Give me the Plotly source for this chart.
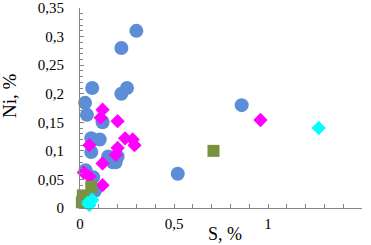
import plotly.graph_objects as go

blue_x = [0.30, 0.22, 0.065, 0.25, 0.22, 0.027, 0.037, 0.12, 0.86, 0.52, 0.06, 0.105, 0.15, 0.19, 0.20, 0.175, 0.06, 0.07, 0.03, 0.08]
blue_y = [0.31, 0.28, 0.21, 0.21, 0.20, 0.184, 0.163, 0.15, 0.18, 0.06, 0.122, 0.12, 0.09, 0.08, 0.09, 0.08, 0.098, 0.054, 0.066, 0.03]

mag_x = [0.12, 0.11, 0.20, 0.05, 0.24, 0.28, 0.29, 0.20, 0.12, 0.19, 0.02, 0.05, 0.12, 0.96]
mag_y = [0.172, 0.158, 0.152, 0.11, 0.122, 0.12, 0.11, 0.105, 0.078, 0.093, 0.062, 0.055, 0.04, 0.154]

green_x = [0.06, 0.015, 0.02, 0.01, 0.71]
green_y = [0.037, 0.022, 0.014, 0.01, 0.10]

cyan_x = [0.065, 0.04, 0.05, 1.27]
cyan_y = [0.014, 0.009, 0.005, 0.14]

SERIF = "Liberation Serif"

fig = go.Figure()
fig.add_trace(go.Scatter(x=blue_x, y=blue_y, mode="markers", cliponaxis=False,
                         marker=dict(symbol="circle", size=14, color="#5B8ED6", line=dict(width=0))))
fig.add_trace(go.Scatter(x=mag_x, y=mag_y, mode="markers", cliponaxis=False,
                         marker=dict(symbol="diamond", size=11, color="#FF00FF", line=dict(width=0))))
fig.add_trace(go.Scatter(x=green_x, y=green_y, mode="markers", cliponaxis=False,
                         marker=dict(symbol="square", size=12, color="#77933C", line=dict(width=0))))
fig.add_trace(go.Scatter(x=cyan_x, y=cyan_y, mode="markers", cliponaxis=False,
                         marker=dict(symbol="diamond", size=11, color="#00FFFF", line=dict(width=0))))

axis_font = dict(family=SERIF, size=15, color="black")
fig.update_layout(
    width=371, height=245,
    margin=dict(l=80, r=9, t=8, b=37),
    paper_bgcolor="white", plot_bgcolor="white",
    showlegend=False,
    separators=",.",
    font=dict(family=SERIF, color="black"),
    xaxis=dict(range=[0, 1.5], dtick=0.5, tick0=0, showgrid=False, zeroline=False,
               showline=True, linecolor="#868686", linewidth=1, automargin=False,
               ticks="inside", ticklen=4, tickcolor="#868686",
               minor=dict(dtick=0.1, ticks="inside", ticklen=4, tickcolor="#868686", showgrid=False),
               tickfont=axis_font, ticklabelstandoff=2),
    yaxis=dict(range=[0, 0.35], dtick=0.05, tick0=0, showgrid=False, zeroline=False,
               showline=True, linecolor="#868686", linewidth=1, automargin=False,
               ticks="inside", ticklen=4, tickcolor="#868686",
               minor=dict(dtick=0.01, ticks="inside", ticklen=3, tickcolor="#868686", showgrid=False),
               tickfont=axis_font, ticklabelstandoff=12),
    annotations=[
        dict(text="S, %", xref="paper", yref="paper", x=0.514, y=-0.13,
             xanchor="center", yanchor="middle", showarrow=False,
             font=dict(family=SERIF, size=18, color="black")),
        dict(text="Ni, %", xref="paper", yref="paper", x=-0.252, y=0.565,
             xanchor="center", yanchor="middle", showarrow=False, textangle=-90,
             font=dict(family=SERIF, size=19, color="black")),
    ],
)

fig.write_html("out.html", config={"displayModeBar": False},
               post_script="document.body.style.margin='0';document.body.style.overflow='hidden';")
